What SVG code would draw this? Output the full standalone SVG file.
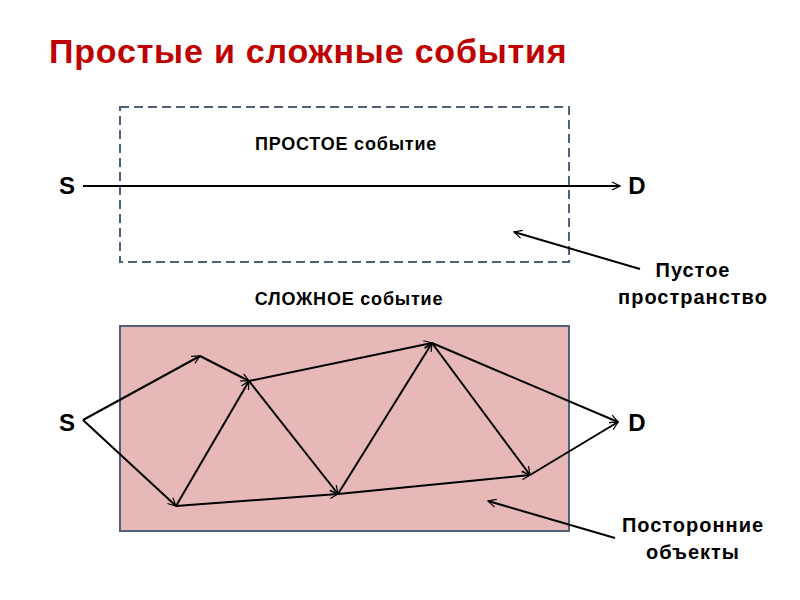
<svg xmlns="http://www.w3.org/2000/svg" width="800" height="600" viewBox="0 0 800 600">
<defs>
<marker id="ah" markerWidth="10" markerHeight="10" refX="9" refY="5" orient="auto" markerUnits="userSpaceOnUse">
<path d="M1,1 L9,5 L1,9" fill="none" stroke="#000" stroke-width="1.2"/>
</marker>
<style>
.t{font-family:"Liberation Sans",Arial,sans-serif;font-weight:bold;fill:#000}
.c{stroke:#000;stroke-width:2;fill:none;marker-end:url(#ah)}
</style>
</defs>
<rect width="800" height="600" fill="#fff"/>
<text x="49" y="63" font-family="Liberation Sans,Arial,sans-serif" font-weight="bold" font-size="34" fill="#C00000" letter-spacing="0.8">Простые и сложные события</text>
<g id="simple-box">
<rect x="120" y="107" width="449" height="155" fill="none" stroke="#4F617A" stroke-width="2" stroke-dasharray="9,5"/>
<text class="t" x="346" y="150" font-size="18" text-anchor="middle" letter-spacing="0.8">ПРОСТОЕ событие</text>
</g>
<g id="complex-box">
<rect x="120" y="326" width="449" height="205" fill="#E6B9B8" stroke="#4F617A" stroke-width="2"/>
</g>
<text class="t" x="349" y="305" font-size="18" text-anchor="middle" letter-spacing="0.8">СЛОЖНОЕ событие</text>
<g id="S1"><text class="t" x="67" y="194" font-size="24" text-anchor="middle">S</text></g>
<g id="D1"><text class="t" x="637" y="194" font-size="24" text-anchor="middle">D</text></g>
<g id="S2"><text class="t" x="67" y="431" font-size="24" text-anchor="middle">S</text></g>
<g id="D2"><text class="t" x="637" y="431" font-size="24" text-anchor="middle">D</text></g>
<g id="label-empty">
<text class="t" x="693" y="277" font-size="20" text-anchor="middle" letter-spacing="1">Пустое</text>
<text class="t" x="693" y="304" font-size="20" text-anchor="middle" letter-spacing="1">пространство</text>
</g>
<g id="label-objects">
<text class="t" x="693" y="532" font-size="20" text-anchor="middle" letter-spacing="1">Посторонние</text>
<text class="t" x="693" y="559" font-size="20" text-anchor="middle" letter-spacing="1">объекты</text>
</g>
<g id="connectors">
<line class="c" x1="83" y1="186" x2="620" y2="186"/>
<line class="c" x1="640" y1="269" x2="514" y2="232"/>
<line class="c" x1="615" y1="538" x2="488" y2="501"/>
<line class="c" x1="83" y1="420" x2="200" y2="356"/>
<line class="c" x1="83" y1="420" x2="176" y2="506"/>
<line class="c" x1="200" y1="356" x2="249" y2="381"/>
<line class="c" x1="176" y1="506" x2="249" y2="381"/>
<line class="c" x1="249" y1="381" x2="432" y2="343"/>
<line class="c" x1="249" y1="381" x2="338" y2="494"/>
<line class="c" x1="176" y1="506" x2="338" y2="494"/>
<line class="c" x1="338" y1="494" x2="432" y2="343"/>
<line class="c" x1="432" y1="343" x2="530" y2="475"/>
<line class="c" x1="338" y1="494" x2="530" y2="475"/>
<line class="c" x1="432" y1="343" x2="618" y2="422"/>
<line class="c" x1="530" y1="475" x2="618" y2="422"/>
</g>
</svg>
